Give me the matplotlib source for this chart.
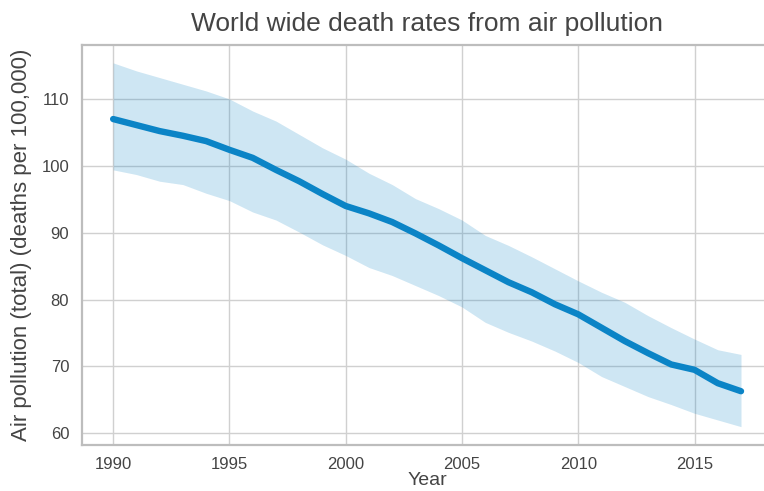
import matplotlib
matplotlib.use("Agg")
import matplotlib.pyplot as plt

years = list(range(1990, 2018))
mean_rate = [107.0, 106.1, 105.2, 104.5, 103.7, 102.4, 101.2, 99.4, 97.7, 95.8,
             94.0, 92.9, 91.6, 89.9, 88.1, 86.2, 84.4, 82.6, 81.1, 79.3,
             77.8, 75.8, 73.8, 72.0, 70.3, 69.5, 67.5, 66.3]
upper_rate = [115.4, 114.2, 113.2, 112.2, 111.2, 110.0, 108.2, 106.7, 104.7, 102.7,
              101.0, 98.9, 97.2, 95.1, 93.6, 91.9, 89.6, 88.1, 86.4, 84.6,
              82.8, 81.1, 79.6, 77.6, 75.8, 74.1, 72.5, 71.8]
lower_rate = [99.4, 98.7, 97.7, 97.2, 95.9, 94.8, 93.1, 91.9, 90.1, 88.2,
              86.6, 84.8, 83.6, 82.1, 80.6, 78.9, 76.6, 75.1, 73.8, 72.3,
              70.6, 68.5, 67.0, 65.5, 64.3, 63.0, 62.0, 61.0]
xticks = [1990, 1995, 2000, 2005, 2010, 2015]
yticks = [60, 70, 80, 90, 100, 110]

plt.rcParams['font.family'] = ['Liberation Sans', 'DejaVu Sans']
text_color = '#444444'
line_color = '#0b84c6'

fig = plt.figure(figsize=(7.64, 4.91), dpi=100)
ax = fig.add_axes([0.107, 0.094, 0.904, 0.815])
ax.set_facecolor('white')

ax.fill_between(years, lower_rate, upper_rate, color=line_color, alpha=0.2, linewidth=0)
ax.plot(years, mean_rate, color=line_color, linewidth=4.6, solid_capstyle='round')

ax.set_xticks(xticks)
ax.set_yticks(yticks)
ax.margins(x=0.05, y=0.05)
ax.grid(True, color='#d0d0d0', linewidth=1.0)
ax.set_axisbelow(True)
for s in ax.spines.values():
    s.set_color('#bdbdbd')
    s.set_linewidth(1.6)
ax.tick_params(axis='both', length=0, pad=9, labelsize=12, labelcolor=text_color)

ax.set_title('World wide death rates from air pollution', fontsize=19,
             color=text_color, pad=10)
ax.set_xlabel('Year', fontsize=14, color=text_color, labelpad=0)
ax.set_ylabel('Air pollution (total) (deaths per 100,000)', fontsize=16,
              color=text_color, labelpad=7)

fig.savefig('out.png', dpi=100)
